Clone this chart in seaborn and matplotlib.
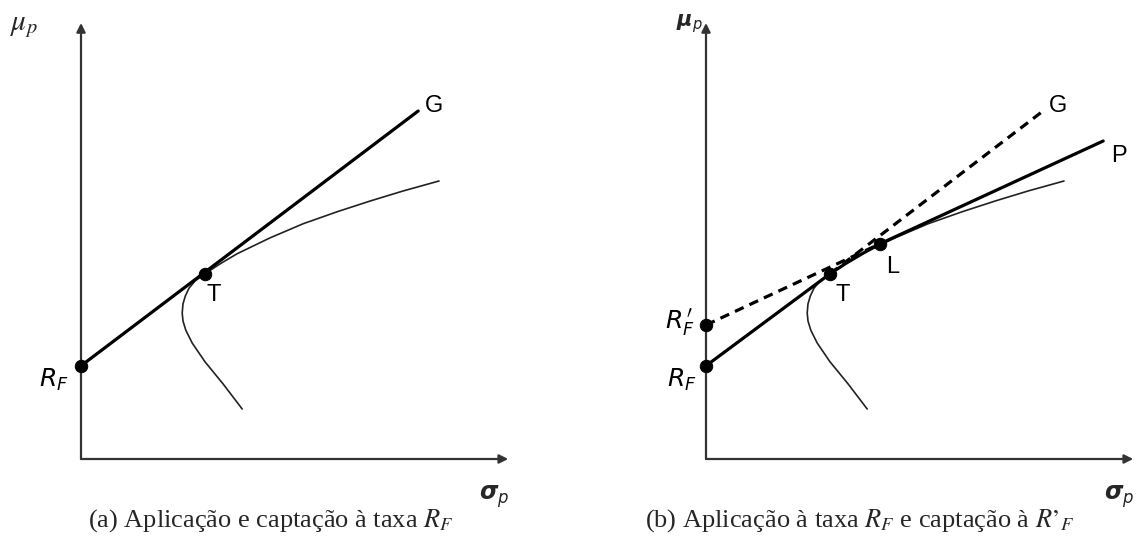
import numpy as np
import pandas as pd
import matplotlib
matplotlib.use("Agg")
import matplotlib.pyplot as plt
import seaborn as sns

sns.set_style("white")
plt.rcParams['font.family'] = ['Liberation Sans', 'DejaVu Sans']

# Efficient frontier (sigma_p, mu_p), same in both panels
frontier_sigma = [4.03, 3.55, 3.10, 2.78, 2.62, 2.55, 2.53, 2.55, 2.61, 2.70, 2.85,
                  3.10, 3.48, 3.90, 4.73, 5.55, 6.40, 7.23, 8.05, 8.95]
frontier_mu = [1.25, 1.88, 2.43, 2.90, 3.22, 3.45, 3.65, 3.88, 4.08, 4.27, 4.45,
               4.63, 4.88, 5.13, 5.53, 5.88, 6.18, 6.45, 6.70, 6.95]

# key points
rf = (0.0, 2.33)        # R_F
rf_b = (0.0, 3.35)      # R'_F
pt_T = (3.10, 4.63)
pt_L = (4.35, 5.38)
end_G_a = (8.43, 8.70)
end_G_b = (8.40, 8.68)
end_P = (9.93, 7.95)

x_tip, y_tip = 10.68, 10.9

W, H = 1137, 548
fig = plt.figure(figsize=(W / 100, H / 100), dpi=100)

# axes boxes in pixels: 40 px per unit, origin at (81,459) and (706,459)
scale = 40.0


def make_ax(px_left, px_right, origin_x):
    bottom_px = 490
    ax = fig.add_axes([px_left / W, (H - bottom_px) / H,
                       (px_right - px_left) / W, bottom_px / H])
    ax.set_xlim((px_left - origin_x) / scale, (px_right - origin_x) / scale)
    ax.set_ylim((459 - bottom_px) / scale, 459 / scale)
    ax.axis('off')
    # axes with arrows
    for tip in [(0, y_tip), (x_tip, 0)]:
        ax.annotate('', xy=tip, xytext=(0, 0),
                    arrowprops=dict(arrowstyle='-|>', color='#333333', lw=1.6,
                                    mutation_scale=13, shrinkA=0, shrinkB=0))
    return ax


fr = pd.DataFrame({'sigma': frontier_sigma, 'mu': frontier_mu})


def seg(ax, p0, p1, dashed=False):
    d = pd.DataFrame({'sigma': [p0[0], p1[0]], 'mu': [p0[1], p1[1]]})
    sns.lineplot(data=d, x='sigma', y='mu', ax=ax, color='black', lw=2.3,
                 sort=False, estimator=None,
                 linestyle=(0, (3.0, 2.0)) if dashed else '-')


def dots(ax, pts):
    d = pd.DataFrame({'sigma': [p[0] for p in pts], 'mu': [p[1] for p in pts]})
    sns.scatterplot(data=d, x='sigma', y='mu', ax=ax, color='black', s=80,
                    edgecolor='black', zorder=5)


lab = dict(fontsize=17, ha='center', va='center', color='black')
rlab = dict(fontsize=18, ha='center', va='center', color='black',
            math_fontfamily='dejavusans')

# ---- panel (a)
ax1 = make_ax(0, 560, 81)
sns.lineplot(data=fr, x='sigma', y='mu', ax=ax1, color='#222222', lw=1.2,
             sort=False, estimator=None)
seg(ax1, rf, end_G_a)
dots(ax1, [rf, pt_T])
ax1.text((214 - 81) / scale, (459 - 295) / scale, 'T', **lab)
ax1.text((434 - 81) / scale, (459 - 106) / scale, 'G', **lab)
ax1.text((54 - 81) / scale, (459 - 380) / scale, r'$R_F$', **rlab)
ax1.text((24 - 81) / scale, (459 - 26) / scale, r'$\mu_p$', math_fontfamily='stix',
         fontsize=21, ha='center', va='center')
ax1.text((494 - 81) / scale, (459 - 497) / scale, r'$\boldsymbol{\sigma}_p$',
         math_fontfamily='dejavusans', fontsize=17, ha='center', va='center')
ax1.set_xlabel('')
ax1.set_ylabel('')

# ---- panel (b)
ax2 = make_ax(625, 1137, 706)
sns.lineplot(data=fr, x='sigma', y='mu', ax=ax2, color='#222222', lw=1.2,
             sort=False, estimator=None)
tl = fr[(fr.sigma >= pt_T[0]) & (fr.sigma <= pt_L[0]) & (fr.mu >= pt_T[1])]
tl = pd.concat([tl, pd.DataFrame({'sigma': [pt_L[0]], 'mu': [pt_L[1]]})])
sns.lineplot(data=tl, x='sigma', y='mu', ax=ax2, color='black', lw=2.3,
             sort=False, estimator=None)
seg(ax2, rf, pt_T)
seg(ax2, pt_T, end_G_b, dashed=True)
seg(ax2, rf_b, pt_L, dashed=True)
seg(ax2, pt_L, end_P)
dots(ax2, [rf, rf_b, pt_T, pt_L])
ax2.text((843 - 706) / scale, (459 - 295) / scale, 'T', **lab)
ax2.text((893 - 706) / scale, (459 - 267) / scale, 'L', **lab)
ax2.text((1058 - 706) / scale, (459 - 106) / scale, 'G', **lab)
ax2.text((1119 - 706) / scale, (459 - 156) / scale, 'P', **lab)
ax2.text((682 - 706) / scale, (459 - 380) / scale, r'$R_F$', **rlab)
ax2.text((680 - 706) / scale, (459 - 322) / scale, r"$R_F^{\,\prime}$", **rlab)
ax2.text((689 - 706) / scale, (459 - 24) / scale, r'$\boldsymbol{\mu}_p$',
         math_fontfamily='dejavusans', fontsize=15, ha='center', va='center')
ax2.text((1119 - 706) / scale, (459 - 497) / scale, r'$\boldsymbol{\sigma}_p$',
         math_fontfamily='dejavusans', fontsize=17, ha='center', va='center')
ax2.set_xlabel('')
ax2.set_ylabel('')

# captions
cap = dict(fontsize=19, ha='center', va='center', family='Liberation Serif',
           math_fontfamily='stix')
fig.text(271 / W, 1 - 521 / H, r'(a) Aplicação e captação à taxa $R_F$', **cap)
fig.text(860 / W, 1 - 521 / H, r"(b) Aplicação à taxa $R_F$ e captação à $R’_F$", **cap)

fig.savefig('out.png', dpi=100)
